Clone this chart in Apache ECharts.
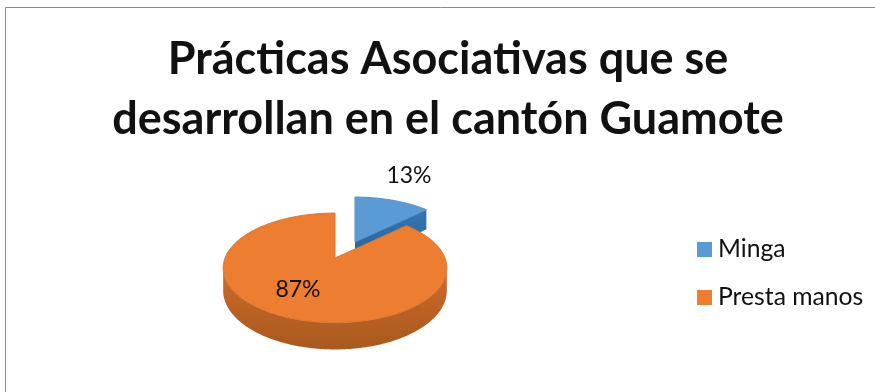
<!DOCTYPE html>
<html><head><meta charset="utf-8">
<style>html,body{margin:0;padding:0;background:#fff}#c{width:875px;height:392px}</style>
<script src="https://cdn.jsdelivr.net/npm/echarts@6/dist/echarts.min.js"></script>
</head><body><div id="c"></div>
<script>
const titleLines = ['Prácticas Asociativas que se', 'desarrollan en el cantón Guamote'];
const categories = ['Minga', 'Presta manos'];
const values = [13, 87];
const topColors = ['#5B9BD5', '#ED7D31'];
const rimColors = ['#5490C8', '#DE7530'];
const wallColors = [['#3477B3', '#285F92'], ['#CC6B2A', '#A9591F']];
const centers = [[355, 242], [335, 258]];
const labelPos = [[409, 176], [298, 290]];
const R = 110, RY = 53, P = 0.18, DEPTH = 22;

const total = values.reduce((a, b) => a + b, 0);
function pt(c, t, r, d) {
  const u = Math.sin(t) * r, v = Math.cos(t) * r, s = 1 / (1 + P * v);
  return [c[0] + R * u * s, c[1] - RY * v * s + (d || 0) * s];
}
function arc(c, a, b, d) {
  const out = [], n = Math.max(2, Math.ceil(Math.abs(b - a) / 0.02));
  for (let i = 0; i <= n; i++) out.push(pt(c, a + (b - a) * i / n, 1, d));
  return out;
}
const cumulative = values.map((_, i) => values.slice(0, i).reduce((a, b) => a + b, 0));
const visA = Math.acos(-P), visB = 2 * Math.PI - visA;

function renderSlice(idx) {
  return function (params, api) {
    const a = cumulative[idx] / total * 2 * Math.PI;
    const b = a + api.value(0) / total * 2 * Math.PI;
    const c = centers[idx];
    const grad = new echarts.graphic.LinearGradient(0, 0, 0, 1, [
      { offset: 0, color: wallColors[idx][0] }, { offset: 1, color: wallColors[idx][1] }]);
    const children = [];
    const from = Math.max(a, visA), to = Math.min(b, visB);
    if (to > from) {
      children.push({ type: 'polygon', shape: { points: arc(c, from, to, 0).concat(arc(c, to, from, DEPTH)) }, style: { fill: grad } });
    }
    if (idx === 0) {
      const e = pt(c, b, 1, 0), e2 = pt(c, b, 1, DEPTH), o = pt(c, 0, 0, 0), o2 = pt(c, 0, 0, DEPTH);
      children.push({ type: 'polygon', shape: { points: [o, e, e2, o2] }, style: { fill: grad } });
    }
    children.push({ type: 'polygon', shape: { points: [pt(c, 0, 0, 0)].concat(arc(c, a, b, 0)) }, style: { fill: topColors[idx], stroke: rimColors[idx], lineWidth: 1 } });
    children.push({ type: 'text', style: { x: labelPos[idx][0], y: labelPos[idx][1], text: api.value(0) + '%', align: 'center', verticalAlign: 'middle', font: '23px Lato', fill: '#111' }, z2: 10 });
    return { type: 'group', children };
  };
}

const chart = echarts.init(document.getElementById('c'), null, { renderer: 'canvas' });
chart.setOption({
  animation: false,
  backgroundColor: '#fff',
  title: { text: titleLines.join('\n'), left: 443, top: 24, textAlign: 'center',
    textStyle: { fontFamily: 'Lato', fontWeight: 'bold', fontSize: 45, lineHeight: 60, color: '#111' } },
  legend: { orient: 'vertical', left: 692, top: 232, itemWidth: 15, itemHeight: 15, itemGap: 23, icon: 'rect',
    data: categories, textStyle: { fontFamily: 'Lato', fontSize: 24.7, color: '#111', padding: [0, 0, 0, 1] } },
  graphic: [{ type: 'polyline', shape: { points: [[5.5, 392], [5.5, 7.5], [875, 7.5]] }, style: { stroke: '#8c8c8c', fill: null, lineWidth: 1 } }],
  series: categories.map((name, i) => ({
    type: 'custom', name, coordinateSystem: 'none', z: 2 + i,
    itemStyle: { color: topColors[i] },
    renderItem: renderSlice(i),
    data: [[values[i]]]
  }))
});
</script></body></html>
